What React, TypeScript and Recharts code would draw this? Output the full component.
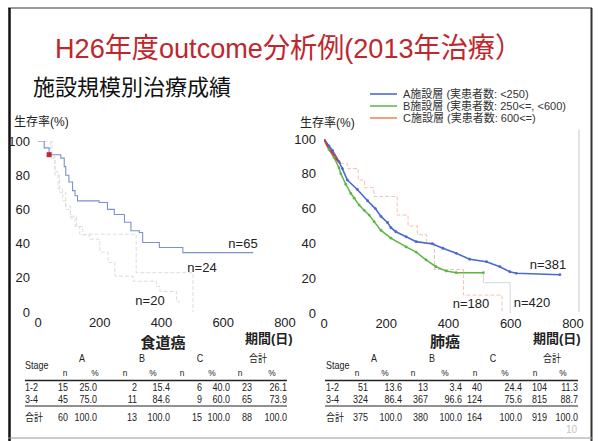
import { LineChart, Line, XAxis, YAxis } from "recharts";

const FONT = "'Liberation Sans', 'Noto Sans CJK JP', sans-serif";

const xTicks = [0, 200, 400, 600, 800];
const yTicks = [0, 20, 40, 60, 80, 100];

// 食道癌 (esophagus) — survival steps, day / %
const escA_days = [0, 20, 36, 74, 85, 90, 100, 112, 120, 128, 198, 225, 247, 280, 301, 328, 339, 393, 469, 697];
const escA_surv = [100, 96, 92, 90, 85, 80, 76, 71, 68, 65, 64, 60, 57, 52.5, 47.5, 46.5, 40.6, 37.7, 34.7, 34.7];
const escB_days = [0, 45, 55, 65, 80, 90, 105, 120, 135, 318, 502];
const escB_surv = [100, 91, 82, 72, 65, 60, 55, 50, 45.5, 23, 0];
const escC_days = [0, 40, 55, 70, 90, 105, 125, 145, 168, 200, 227, 249, 308, 340, 384, 395, 449, 460];
const escC_surv = [100, 90, 80, 70, 62, 56, 50, 45, 42.6, 35, 29, 21, 18, 18, 15, 12, 6, 6];

// 肺癌 (lung)
const lungA_days = [0, 16, 27, 48, 59, 75, 107, 140, 165, 183, 204, 215, 231, 264, 296, 349, 382, 425, 468, 522, 565, 597, 618, 758];
const lungA_surv = [100, 96, 93.5, 87, 83, 76.4, 71, 64.5, 60, 55.5, 52, 49, 46.7, 43.8, 41, 39.7, 37.2, 34.3, 30.9, 29.5, 26.6, 23.7, 22.8, 22];
const lungB_days = [0, 16, 32, 48, 54, 70, 86, 97, 113, 129, 145, 161, 183, 215, 264, 296, 328, 360, 393, 425, 512];
const lungB_surv = [100, 94, 89.5, 83.5, 80, 74, 68.8, 66, 62, 59, 56.3, 52.5, 47.5, 43, 38, 35, 30.5, 26.6, 24.1, 23.2, 23.2];
const lungBtail_days = [512, 512, 598];
const lungBtail_surv = [23.2, 17.4, 0];
const lungCearly_days = [0, 8, 18, 30, 42, 52];
const lungCearly_surv = [100, 97, 94, 91, 88, 86];
const lungC_days = [52, 75, 110, 130, 160, 235, 270, 300, 330, 355, 448, 572];
const lungC_surv = [86, 83, 76.4, 72, 67, 56.3, 50, 45, 40.5, 25, 10.3, 0];

// tables
const stages = ["1-2", "3-4", "合計"];
const escN = [[15, 45, 60], [2, 11, 13], [6, 9, 15], [23, 65, 88]];
const escP = [[25.0, 75.0, 100.0], [15.4, 84.6, 100.0], [40.0, 60.0, 100.0], [26.1, 73.9, 100.0]];
const lungN = [[51, 324, 375], [13, 367, 380], [40, 124, 164], [104, 815, 919]];
const lungP = [[13.6, 86.4, 100.0], [3.4, 96.6, 100.0], [24.4, 75.6, 100.0], [11.3, 88.7, 100.0]];
const groups = ["A", "B", "C", "合計"];

const legendItems = [
  { label: "A施設層 (実患者数: <250)", color: "#3d66c4" },
  { label: "B施設層 (実患者数: 250<=, <600)", color: "#5cb545" },
  { label: "C施設層 (実患者数: 600<=)", color: "#e8864a" },
];

const toPts = (d: number[], s: number[]) => d.map((x, i) => ({ x, y: s[i] }));

type Series = {
  days: number[];
  surv: number[];
  color: string;
  width: number;
  step?: boolean;
  dash?: string;
  dots?: boolean;
};

const esoSeries: Series[] = [
  { days: escB_days, surv: escB_surv, color: "#dadde5", width: 1, step: true, dash: "4 2" },
  { days: escC_days, surv: escC_surv, color: "#d8dfd6", width: 1, step: true, dash: "4 2" },
  { days: escA_days, surv: escA_surv, color: "#7b91cf", width: 1.1, step: true },
];

const lungSeries: Series[] = [
  { days: lungC_days, surv: lungC_surv, color: "#f4c3ad", width: 1, step: true, dash: "4 2" },
  { days: lungBtail_days, surv: lungBtail_surv, color: "#d3d6dc", width: 1, step: true },
  { days: lungB_days, surv: lungB_surv, color: "#5cb545", width: 1.5, dots: true },
  { days: lungA_days, surv: lungA_surv, color: "#4a68d0", width: 1.6, dots: true },
  { days: lungCearly_days, surv: lungCearly_surv, color: "#d23a3a", width: 2 },
];

const tickStyle = { fill: "#222", fontSize: 13, fontFamily: FONT };

function KMChart({ left, margin, series, marker }: any) {
  return (
    <div style={{ position: "absolute", left, top: 100 }}>
      <LineChart width={300} height={250} margin={margin}>
        <XAxis
          type="number"
          dataKey="x"
          domain={[0, 800]}
          ticks={xTicks}
          interval={0}
          axisLine={false}
          tickLine={false}
          tickMargin={0}
          height={30}
          tick={tickStyle}
          allowDataOverflow
        />
        <YAxis
          type="number"
          domain={[0, 100]}
          ticks={yTicks}
          interval={0}
          axisLine={false}
          tickLine={false}
          width={30}
          tick={tickStyle}
          allowDataOverflow
        />
        {series.map((s: Series, i: number) => (
          <Line
            key={i}
            data={toPts(s.days, s.surv)}
            dataKey="y"
            type={s.step ? "stepAfter" : "linear"}
            stroke={s.color}
            strokeWidth={s.width}
            strokeDasharray={s.dash}
            dot={s.dots ? { r: 1.4, fill: s.color, stroke: "none" } : false}
            isAnimationActive={false}
          />
        ))}
        {marker && (
          <Line
            data={[marker]}
            dataKey="y"
            stroke="none"
            dot={(p: any) => (
              <rect key="sq" x={p.cx - 2.5} y={p.cy - 2.5} width={5} height={5} fill="#c0282d" />
            )}
            isAnimationActive={false}
          />
        )}
      </LineChart>
    </div>
  );
}

function Tx({ x, y, size = 11, anchor = "start", color = "#222", weight = 400, sx = 1, children, ...rest }: any) {
  return (
    <text
      x={x / sx}
      y={y + size * 0.35}
      fontSize={size}
      textAnchor={anchor}
      fill={color}
      fontWeight={weight}
      fontFamily={FONT}
      transform={sx !== 1 ? `scale(${sx} 1)` : undefined}
      {...rest}
    >
      {children}
    </text>
  );
}

const SX = 0.88;
const TS = 10.2;

function Table({ n, p, x0, x1, stageX, headX, subN, subP, colR }: any) {
  const rowY = [387, 399, 417];
  return (
    <g>
      <Tx x={stageX} y={365} size={TS} sx={SX}>Stage</Tx>
      {groups.map((g, i) => (
        <Tx key={g} x={headX[i]} y={358} size={TS} anchor="middle" sx={SX}>{g}</Tx>
      ))}
      {groups.map((g, i) => (
        <g key={"s" + g}>
          <Tx x={subN[i]} y={373} anchor="middle" size={9.5} sx={SX}>n</Tx>
          <Tx x={subP[i]} y={373} anchor="middle" size={9.5} sx={SX}>%</Tx>
        </g>
      ))}
      <line x1={x0} x2={x1} y1={380.5} y2={380.5} stroke="#222" strokeWidth={1.3} />
      <line x1={x0} x2={x1} y1={406} y2={406} stroke="#222" strokeWidth={1.1} />
      {stages.map((s, r) => (
        <g key={s}>
          <Tx x={stageX} y={rowY[r]} size={TS} sx={SX}>{s}</Tx>
          {groups.map((g, i) => (
            <g key={g}>
              <Tx x={colR[i * 2]} y={rowY[r]} size={TS} anchor="end" sx={SX}>{n[i][r]}</Tx>
              <Tx x={colR[i * 2 + 1]} y={rowY[r]} size={TS} anchor="end" sx={SX}>{p[i][r].toFixed(1)}</Tx>
            </g>
          ))}
        </g>
      ))}
    </g>
  );
}

export default function App() {
  return (
    <div style={{ position: "absolute", left: 0, top: 0, width: 598, height: 441, background: "#fff", overflow: "hidden" }}>
      <svg width={598} height={441} style={{ position: "absolute", left: 0, top: 0 }}>
        {/* slide frame */}
        <line x1={8} x2={592} y1={8} y2={8} stroke="#777" strokeWidth={1.5} />
        <line x1={9.5} x2={9.5} y1={8} y2={441} stroke="#111" strokeWidth={2.5} />
        <line x1={591.5} x2={591.5} y1={8} y2={441} stroke="#333" strokeWidth={2} />
        <line x1={8} x2={592} y1={438} y2={438} stroke="#999" strokeWidth={1} />
        <line x1={579} x2={579} y1={130} y2={312} stroke="#bbb" strokeWidth={0.8} />

        <Tx x={55} y={48} size={28} color="#c0272d" textLength={467} lengthAdjust="spacingAndGlyphs">
          H26年度outcome分析例(2013年治療）
        </Tx>
        <Tx x={33} y={87} size={22} color="#111">施設規模別治療成績</Tx>

        {legendItems.map((l, i) => (
          <g key={l.label}>
            <line x1={370} x2={397} y1={94 + i * 12} y2={94 + i * 12} stroke={l.color} strokeWidth={1.5} />
            <Tx x={403} y={94 + i * 12} size={11} color="#333">{l.label}</Tx>
          </g>
        ))}

        <Tx x={14} y={122} size={12}>生存率(%)</Tx>
        <Tx x={300} y={123} size={12}>生存率(%)</Tx>

        <Tx x={243} y={243} size={13} anchor="middle">n=65</Tx>
        <Tx x={202} y={267} size={13} anchor="middle">n=24</Tx>
        <Tx x={150} y={300} size={13} anchor="middle">n=20</Tx>
        <Tx x={548} y={264} size={13} anchor="middle">n=381</Tx>
        <Tx x={471} y={303} size={13} anchor="middle">n=180</Tx>
        <Tx x={532} y={302} size={13} anchor="middle">n=420</Tx>

        <Tx x={163} y={343} size={15} anchor="middle" weight={700}>食道癌</Tx>
        <Tx x={245} y={338} size={13} weight={700}>期間(日)</Tx>
        <Tx x={445} y={342} size={15} anchor="middle" weight={700}>肺癌</Tx>
        <Tx x={533} y={338} size={13} weight={700}>期間(日)</Tx>

        <Table
          n={escN}
          p={escP}
          x0={25}
          x1={287}
          stageX={25}
          headX={[82, 142, 200, 258]}
          subN={[65, 125, 182, 240]}
          subP={[95, 153, 212, 272]}
          colR={[68, 97, 137, 170, 202, 230, 252, 287]}
        />
        <Table
          n={lungN}
          p={lungP}
          x0={325}
          x1={578}
          stageX={326}
          headX={[374, 432, 493, 552]}
          subN={[357, 413, 475, 535]}
          subP={[385, 445, 505, 563]}
          colR={[368, 402, 428, 462, 482, 522, 547, 578]}
        />
        <Tx x={577} y={429} size={10} anchor="end" color="#c4c4c4">10</Tx>
      </svg>

      <KMChart
        left={0}
        margin={{ top: 41, right: 15, bottom: 8, left: 8 }}
        series={esoSeries}
        marker={{ x: 36, y: 92 }}
      />
      <KMChart
        left={290}
        margin={{ top: 39, right: 17, bottom: 7, left: 4 }}
        series={lungSeries}
      />
    </div>
  );
}
